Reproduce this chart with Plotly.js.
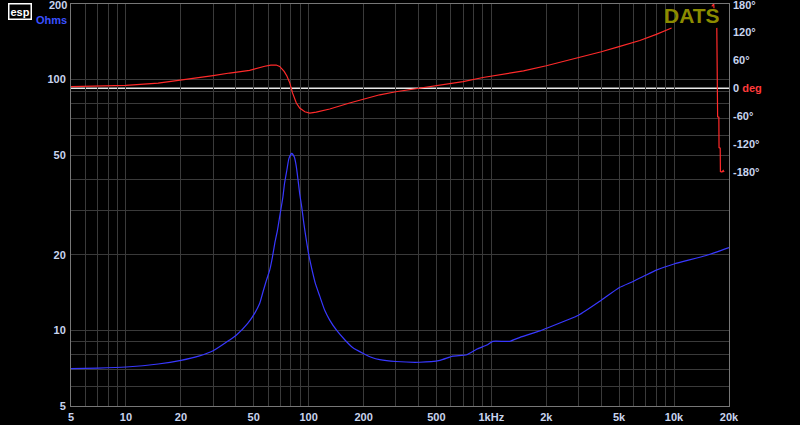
<!DOCTYPE html>
<html><head><meta charset="utf-8">
<script src="https://cdn.plot.ly/plotly-3.0.1.min.js"></script>
<style>html,body{margin:0;padding:0;background:#000;}#chart{width:800px;height:425px;}</style>
</head><body><div id="chart"></div>
<script>
// Impedance (Ohms) vs frequency (Hz)
const freqZ = [5, 7, 10, 15, 20, 25, 30, 36.9, 40, 46.5, 50.6, 53.9, 56.3, 58.8, 61.2, 63.4, 65.2, 67.5, 69.4, 72.3, 73.8, 76, 78, 80.8, 83.4, 85.6, 87.5, 89.3, 91.6, 94.1, 97.1, 100.3, 104.4, 108.8, 115, 122.6, 130.4, 142.4, 158, 174, 199, 222, 245, 300, 405, 523, 615, 734, 835, 945, 1018, 1260, 1435, 1846, 2000, 3000, 4000, 5000, 6000, 7000, 8000, 10000, 15000, 20000];
const impedance = [7.05, 7.08, 7.15, 7.35, 7.6, 7.9, 8.3, 9.16, 9.55, 10.7, 11.7, 12.8, 14.3, 15.9, 17.4, 19.7, 22.2, 25.1, 28.4, 34.1, 38.6, 43.6, 48.5, 50.8, 49.2, 45, 39.7, 35.1, 31.1, 26.7, 22.9, 19.9, 17.4, 15.4, 13.7, 12.0, 11.0, 10.0, 9.16, 8.55, 8.1, 7.8, 7.65, 7.52, 7.47, 7.6, 7.9, 8.0, 8.43, 8.75, 9.05, 9.05, 9.39, 9.96, 10.2, 11.5, 13.2, 14.8, 15.7, 16.6, 17.4, 18.4, 19.9, 21.4];

// Phase (deg) vs frequency (Hz); null = gap in trace
const freqP = [5, 7, 10, 15, 20, 25, 30, 36.9, 40, 47.5, 57.5, 62, 66.4, 69.4, 73.4, 76, 78.9, 81.6, 85.6, 89.3, 95.3, 101.4, 110, 130.4, 167.5, 245, 300, 405, 500, 700, 900, 1000, 1200, 1500, 2000, 3000, 4000, 5000, 6500, 8000, 9700, 12000, 16100, 16350, 16500, 16550, 16900, 17150, 17180, 17300, 17330, 17600, 17640, 17900, 17950, 18300, 18600, 18800];
const phase = [3.5, 4.5, 6, 11, 17, 22, 27, 32.5, 34, 38, 47, 49.5, 49.6, 46.6, 36, 26, 11, -10, -31.6, -42.3, -50.2, -53, -51, -44.4, -31.6, -14, -7.5, 0, 5, 14, 23, 26, 31, 37, 48, 65, 78, 89, 102, 115, 128.6, null, 175, 180, 180, 171, null, 129, 67, 66, -61, -62, -127, -128, -178, -179, -176, -179];

// Axis ticks
const xTickVals = [5,6,7,8,9,10,20,30,40,50,60,70,80,90,100,200,300,400,500,600,700,800,900,1000,2000,3000,4000,5000,6000,7000,8000,9000,10000,20000];
const xTickText = ['5','','','','','10','20','','','50','','','','','100','200','','','500','','','','','1kHz','2k','','','5k','','','','','10k','20k'];
const yTickVals = [5,6,7,8,9,10,20,30,40,50,60,70,80,90,100,200];
const yTickText = ['5','','','','','10','20','','','50','','','','','100',''];
const yTopLabel = '200';
const pTickVals = [120,60,0,-60,-120,-180];
const pTickText = ['120°','60°','0 <span style="color:#ff3a3a">deg</span>','-60°','-120°','-180°'];
const pTopLabel = '180°';

const tickFont = {family:'Arial, "Liberation Sans", sans-serif', size:11, color:'#c8d4ee', weight:700};
const gridCol = '#3a3a3a';

const traces = [
  {x:freqZ, y:impedance, type:'scatter', mode:'lines', line:{color:'#3838ff', width:1.2, shape:'spline', smoothing:0.5}, xaxis:'x', yaxis:'y', hoverinfo:'skip'},
  {x:freqP, y:phase, type:'scatter', mode:'lines', line:{color:'#ff2a2a', width:1.2}, xaxis:'x', yaxis:'y2', connectgaps:false, hoverinfo:'skip'}
];

const layout = {
  width:800, height:425,
  margin:{l:71, r:71, t:4, b:19},
  paper_bgcolor:'#000', plot_bgcolor:'#000',
  showlegend:false,
  xaxis:{type:'log', range:[Math.log10(5), Math.log10(20000)], tickmode:'array', tickvals:xTickVals, ticktext:xTickText,
    showgrid:true, gridcolor:gridCol, gridwidth:1, zeroline:false, showline:true, linecolor:'#777', linewidth:1, mirror:true,
    ticks:'', tickfont:tickFont, ticklabelstandoff:1, fixedrange:true},
  yaxis:{type:'log', range:[Math.log10(5), Math.log10(200)], tickmode:'array', tickvals:yTickVals, ticktext:yTickText,
    showgrid:true, gridcolor:gridCol, gridwidth:1, zeroline:false, showline:true, linecolor:'#777', linewidth:1, mirror:true,
    ticks:'', tickfont:tickFont, ticklabelstandoff:2, fixedrange:true},
  yaxis2:{overlaying:'y', side:'right', range:[-679, 180], tickmode:'array', tickvals:pTickVals, ticktext:pTickText,
    showgrid:false, zeroline:false, showline:false, ticks:'', tickfont:tickFont, ticklabelstandoff:3, fixedrange:true},
  shapes:[
    {type:'line', xref:'paper', x0:0, x1:1, yref:'y2', y0:0, y1:0, line:{color:'#e8e8e8', width:1.6}, layer:'below'}
  ],
  annotations:[
    {text:yTopLabel, xref:'paper', yref:'paper', x:-0.004, y:0.980, xanchor:'right', yanchor:'bottom', showarrow:false, font:tickFont, borderpad:0},
    {text:pTopLabel, xref:'paper', yref:'paper', x:1.005, y:0.980, xanchor:'left', yanchor:'bottom', showarrow:false, font:tickFont, borderpad:0},
    {text:'Ohms', xref:'paper', yref:'paper', x:-0.004, y:0.978, xanchor:'right', yanchor:'top', showarrow:false, borderpad:0,
     font:{family:'Arial, "Liberation Sans", sans-serif', size:11, color:'#3a50ff', weight:700}},
    {text:'DATS', xref:'paper', yref:'paper', x:0.944, y:0.972, xanchor:'center', yanchor:'middle', showarrow:false,
     font:{family:'Arial, "Liberation Sans", sans-serif', size:21, color:'#8c8c00', weight:700}},
    {text:'esp', xref:'paper', yref:'paper', x:-0.0775, y:0.982, xanchor:'center', yanchor:'middle', showarrow:false,
     font:{family:'Arial, "Liberation Sans", sans-serif', size:11, color:'#ffffff', weight:700},
     bordercolor:'#ffffff', borderwidth:1.5, borderpad:1, bgcolor:'#000'}
  ]
};

Plotly.newPlot('chart', traces, layout, {staticPlot:true, displayModeBar:false});
</script>
</body></html>
